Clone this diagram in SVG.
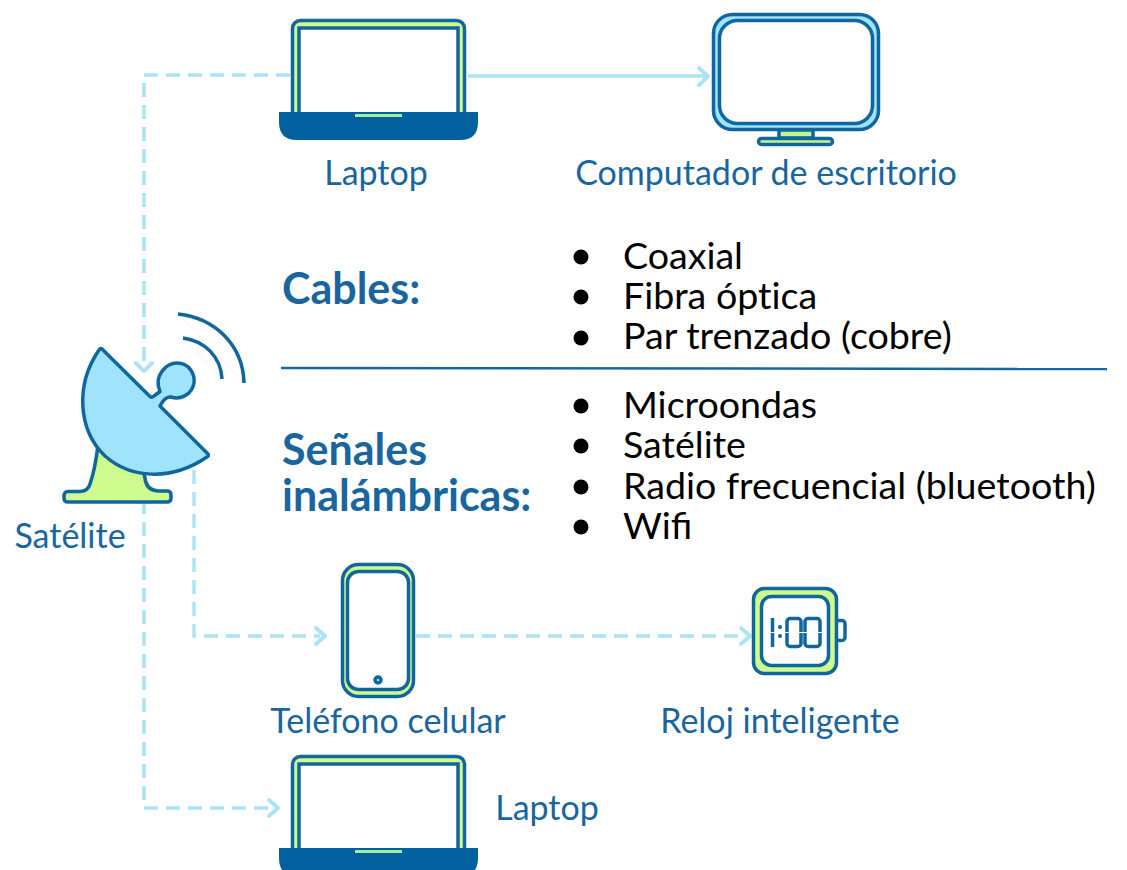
<svg xmlns="http://www.w3.org/2000/svg" width="1127" height="870" viewBox="0 0 1127 870">
<style>
.lbl{font-family:Lato,"Liberation Sans",sans-serif;font-size:34px;fill:#19669f}
.hd{font-family:Lato,"Liberation Sans",sans-serif;font-size:43px;font-weight:700;fill:#19669f}
.li{font-family:Lato,"Liberation Sans",sans-serif;font-size:37.600px;fill:#000}
.nl{font-variant-ligatures:none}
.o{stroke:#11669e;stroke-width:3.500;stroke-linejoin:round}
.c{fill:none;stroke:#ade3f7;stroke-width:3.500}
.d{stroke-dasharray:14 8}
.a{fill:none;stroke:#ade3f7;stroke-width:4;stroke-linecap:round;stroke-linejoin:round}
</style>
<defs>
<g id="laptop">
<rect x="292.500" y="20.500" width="172" height="100" rx="8" fill="#cdfb8e" stroke="#11669e" stroke-width="3.500"/>
<rect x="299" y="28" width="159" height="90" fill="#fff" stroke="#11669e" stroke-width="3.500"/>
<path d="M279 112H478V122Q478 140 460 140H297Q279 140 279 122Z" fill="#02609f"/>
<rect x="355" y="114" width="47" height="3" fill="#a6eb9c"/>
</g>
</defs>
<g id="connectors">
<path class="c d" d="M290 75H144V362"/>
<path class="a" d="M136 363L144 371L152 363"/>
<path class="c" d="M468 76H707"/>
<path class="a" d="M699 68L708 76.500L699 85"/>
<path class="c d" d="M144 500V808H272"/>
<path class="a" d="M269 800L278 808L269 816"/>
<path class="c d" d="M194 470V636H320"/>
<path class="a" d="M316 628L325 636L316 644"/>
<path class="c d" d="M416 636H742"/>
<path class="a" d="M741 628L750 636L741 644"/>
</g>
<g id="laptop-top"><use href="#laptop"/><text class="lbl" x="376" y="185" text-anchor="middle">Laptop</text></g>
<g id="desktop">
<rect x="713.500" y="14.500" width="165" height="115" rx="19" fill="#9fe3fd" class="o"/>
<rect x="719.500" y="20.500" width="153" height="103" rx="18" fill="#fff" class="o"/>
<rect x="779" y="130" width="34" height="8" fill="#c6f58c" class="o"/>
<rect x="758.500" y="138.500" width="74" height="6" rx="3" fill="#c6f58c" class="o"/>
<text class="lbl" x="766" y="185" text-anchor="middle">Computador de escritorio</text>
</g>
<g id="satellite">
<path d="M98 445Q95 470 90 484Q88 491 80 491.500H68Q64 491.500 64 496.500V498Q64 502 68 502H167Q171 502 171 498V495Q171 491 167 491H158Q146 490 145 478L143 470Z" fill="#cdfb8e" class="o"/>
<path d="M99 350Q101 347 103 350L150 396.500Q152 398 154 396L160 391.500C153 375 167 363 177 363C190 363 195 375 194 383C192 395 180 400 171 397Q165 396 160 406L208 454Q209 456 207 457C170 482 130 478 105 456C78 430 75 385 99 350Z" fill="#9fe3fd" class="o"/>
<path d="M178 314C215 318 243 345 244 383" fill="#fff" stroke="none"/>
<path d="M178 314L244 383M183 338L222 379" stroke="#e4e4e4" stroke-width="0.800" fill="none" stroke-dasharray="2 1"/>
<path d="M178 314C215 318 243 345 244 383" fill="none" class="o"/>
<path d="M183 338C205 341 221 357 222 379" fill="none" class="o"/>
<text class="lbl" x="70" y="548" text-anchor="middle">Satélite</text>
</g>
<g id="cables">
<text class="hd" x="282" y="304">Cables:</text>
<g class="li"><text x="623" y="269">Coaxial</text><text class="nl" x="623" y="309">Fibra óptica</text><text x="623" y="349">Par trenzado (cobre)</text>
<circle cx="581" cy="257" r="7.500" fill="#000"/><circle cx="581" cy="297" r="7.500" fill="#000"/><circle cx="581" cy="338" r="7.500" fill="#000"/></g>
</g>
<path id="divider" d="M281 368L1107 369" stroke="#19669f" stroke-width="2.500" fill="none"/>
<g id="inalambricas">
<text class="hd" x="282" y="465">Señales</text><text class="hd" x="282" y="511">inalámbricas:</text>
<g class="li"><text x="623" y="418">Microondas</text><text x="623" y="458">Satélite</text><text x="623" y="499">Radio frecuencial (bluetooth)</text><text x="623" y="539">Wifi</text>
<circle cx="581" cy="406" r="7.500" fill="#000"/><circle cx="581" cy="446" r="7.500" fill="#000"/><circle cx="581" cy="487" r="7.500" fill="#000"/><circle cx="581" cy="527" r="7.500" fill="#000"/></g>
</g>
<g id="phone">
<rect x="342.500" y="564.500" width="71" height="132" rx="16" fill="#cdfb8e" class="o"/>
<rect x="347.500" y="571.500" width="61" height="118" rx="11" fill="#fff" class="o"/>
<circle cx="378" cy="680" r="3" fill="#9fe3fd" class="o"/>
<text class="lbl" x="388" y="733" text-anchor="middle">Teléfono celular</text>
</g>
<g id="watch">
<rect x="836" y="620.500" width="9" height="20" rx="3" fill="#fff" class="o"/>
<rect x="753.500" y="588.500" width="83" height="85" rx="11" fill="#cdfb8e" class="o"/>
<rect x="761.500" y="596.500" width="67" height="69" rx="10" fill="#fff" class="o"/>
<path d="M772.500 618V647" fill="none" class="o"/>
<circle cx="780" cy="627" r="2" fill="#11669e"/><circle cx="780" cy="636" r="2" fill="#11669e"/>
<rect x="787" y="618.500" width="14" height="28" rx="3" fill="#fff" class="o"/>
<rect x="805" y="618.500" width="15" height="28" rx="3" fill="#fff" class="o"/>
<path d="M770 632.500H822" stroke="#fff" stroke-width="1" fill="none"/>
<text class="lbl" x="780" y="733" text-anchor="middle">Reloj inteligente</text>
</g>
<g id="laptop-bottom"><use href="#laptop" y="736"/><text class="lbl" x="547" y="820" text-anchor="middle">Laptop</text></g>
</svg>
